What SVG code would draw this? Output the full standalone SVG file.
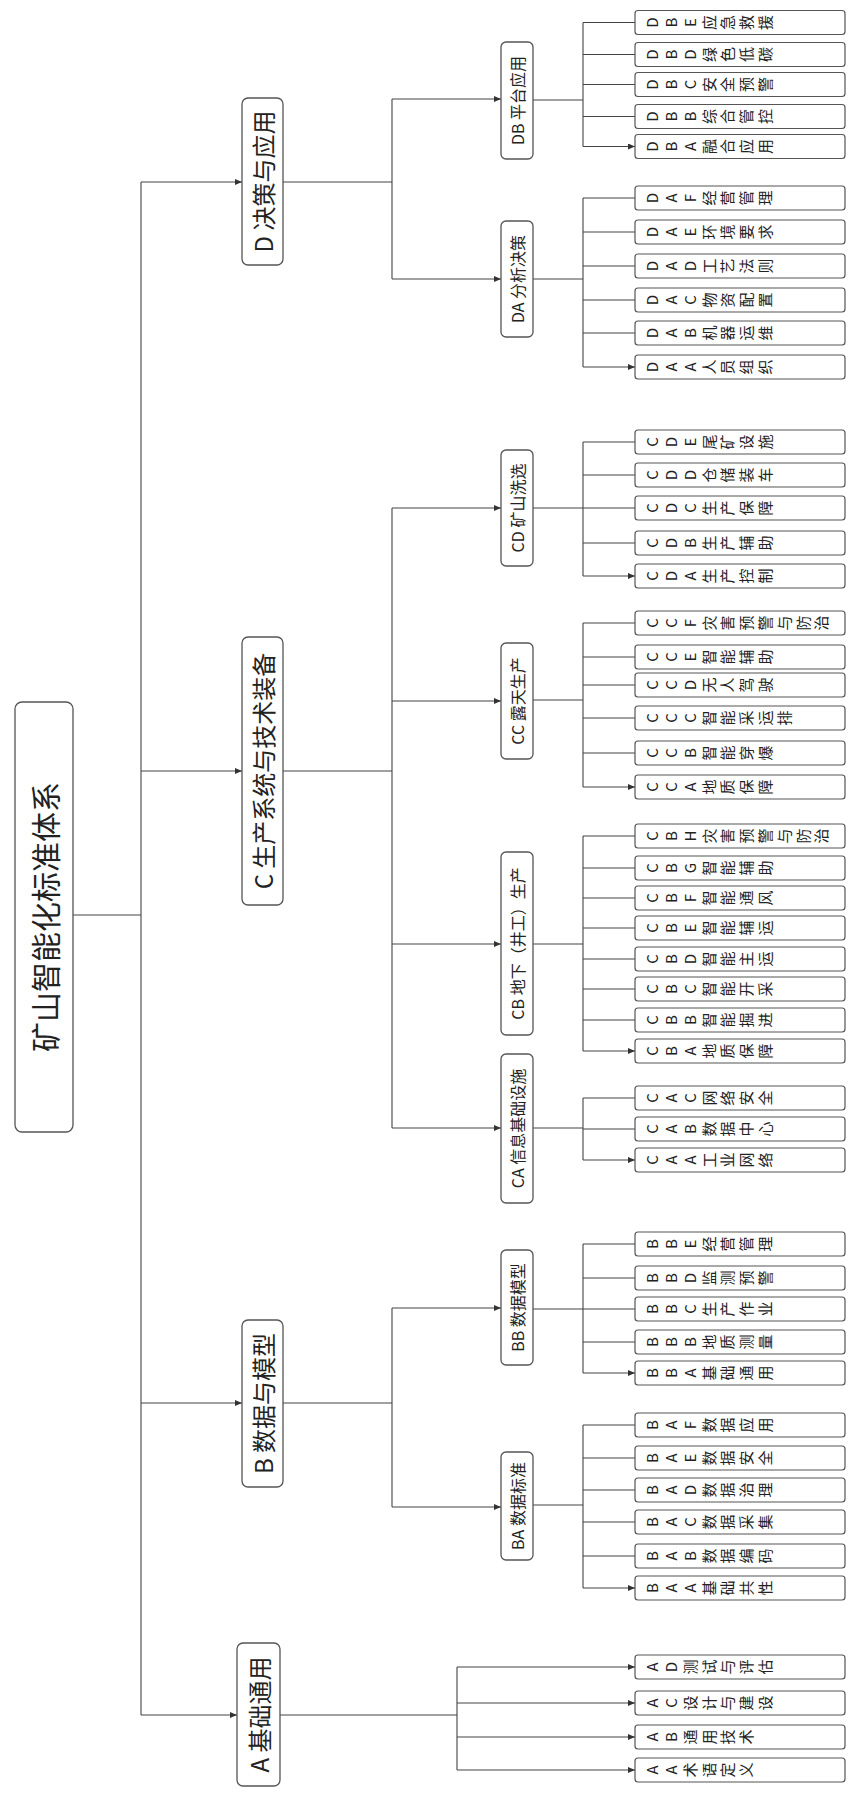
<svg xmlns="http://www.w3.org/2000/svg" width="859" height="1798" viewBox="0 0 859 1798">
<style>
.bg{fill:#fff}
.box{fill:#fff;stroke:#555;stroke-width:1.3}
.leaf{fill:#fff;stroke:#555;stroke-width:1.2}
.ln{fill:none;stroke:#444;stroke-width:1.1}
.ar{fill:none;stroke:#444;stroke-width:1.1;marker-end:url(#ah)}
.t{font-family:"Noto Sans CJK SC","Noto Sans",sans-serif;fill:#222;text-anchor:middle;dominant-baseline:central}
.t0{font-size:30px}
.t1{font-size:24px}
.t2{font-size:16px}
.lt{font-family:"Noto Sans CJK SC","Noto Sans",sans-serif;font-size:15px;fill:#222;writing-mode:vertical-rl;text-orientation:upright;letter-spacing:3.8px}
</style>
<defs>
<marker id="ah" markerUnits="userSpaceOnUse" markerWidth="8" markerHeight="6" refX="7" refY="3" orient="auto">
<path d="M0,0 L7,3 L0,6 Z" fill="#333"/>
</marker>
</defs>
<rect class="bg" x="0" y="0" width="859" height="1798"/>
<g id="connectors">
<path class="ln" d="M73,915 H141 M141,182 V1715"/>
<path class="ar" d="M141,182 H242"/>
<path class="ar" d="M141,771 H242"/>
<path class="ar" d="M141,1403 H242"/>
<path class="ar" d="M141,1715 H237"/>
<path class="ln" d="M283,182 H392 M392,99 V279"/>
<path class="ar" d="M392,99 H501"/>
<path class="ar" d="M392,279 H501"/>
<path class="ln" d="M283,771 H392 M392,508 V1128"/>
<path class="ar" d="M392,508 H501"/>
<path class="ar" d="M392,701 H501"/>
<path class="ar" d="M392,944 H501"/>
<path class="ar" d="M392,1128 H501"/>
<path class="ln" d="M283,1403 H392 M392,1308 V1507"/>
<path class="ar" d="M392,1308 H501"/>
<path class="ar" d="M392,1507 H501"/>
<path class="ln" d="M280,1715 H457 M457,1667 V1770"/>
<path class="ar" d="M457,1667 H635"/>
<path class="ar" d="M457,1703 H635"/>
<path class="ar" d="M457,1737 H635"/>
<path class="ar" d="M457,1770 H635"/>
<path class="ln" d="M533,100 H583 M583,22.5 V146.5"/>
<path class="ar" d="M583,22.5 H635 M583,54.5 H635 M583,84.5 H635 M583,116.5 H635 M583,146.5 H635"/>
<path class="ln" d="M533,279 H583 M583,198 V367"/>
<path class="ar" d="M583,198 H635 M583,232 H635 M583,266 H635 M583,300 H635 M583,333 H635 M583,367 H635"/>
<path class="ln" d="M533,508 H583 M583,442 V576"/>
<path class="ar" d="M583,442 H635 M583,475 H635 M583,508 H635 M583,543 H635 M583,576 H635"/>
<path class="ln" d="M533,700 H583 M583,623 V787"/>
<path class="ar" d="M583,623 H635 M583,657 H635 M583,685 H635 M583,718 H635 M583,753 H635 M583,787 H635"/>
<path class="ln" d="M533,944 H583 M583,836 V1051"/>
<path class="ar" d="M583,836 H635 M583,868 H635 M583,898 H635 M583,928 H635 M583,959 H635 M583,989 H635 M583,1020 H635 M583,1051 H635"/>
<path class="ln" d="M533,1128 H583 M583,1098 V1160"/>
<path class="ar" d="M583,1098 H635 M583,1129 H635 M583,1160 H635"/>
<path class="ln" d="M533,1309 H583 M583,1244 V1373"/>
<path class="ar" d="M583,1244 H635 M583,1278 H635 M583,1309 H635 M583,1342 H635 M583,1373 H635"/>
<path class="ln" d="M533,1505 H583 M583,1425 V1588"/>
<path class="ar" d="M583,1425 H635 M583,1458 H635 M583,1490 H635 M583,1522 H635 M583,1556 H635 M583,1588 H635"/>
</g>
<g id="root"><rect class="box" x="15" y="702" width="58" height="430" rx="7"/><text class="t t0" transform="translate(44,917) rotate(-90)">矿山智能化标准体系</text></g>
<g id="D"><rect class="box" x="242" y="98" width="41" height="167" rx="6"/><text class="t t1" transform="translate(262.5,181.5) rotate(-90)">D 决策与应用</text></g>
<g id="C"><rect class="box" x="242" y="637" width="41" height="268" rx="6"/><text class="t t1" transform="translate(262.5,771) rotate(-90)">C 生产系统与技术装备</text></g>
<g id="B"><rect class="box" x="242" y="1320" width="41" height="167" rx="6"/><text class="t t1" transform="translate(262.5,1403.5) rotate(-90)">B 数据与模型</text></g>
<g id="A"><rect class="box" x="237" y="1643" width="43" height="143" rx="6"/><text class="t t1" transform="translate(258.5,1714.5) rotate(-90)">A 基础通用</text></g>
<g id="DB"><rect class="box" x="501" y="42" width="32" height="117" rx="5"/><text class="t t2" transform="translate(517,100.5) rotate(-90)">DB 平台应用</text></g>
<g id="DA"><rect class="box" x="501" y="221" width="32" height="116" rx="5"/><text class="t t2" transform="translate(517,279) rotate(-90)">DA 分析决策</text></g>
<g id="CD"><rect class="box" x="501" y="450" width="32" height="116" rx="5"/><text class="t t2" transform="translate(517,508) rotate(-90)">CD 矿山洗选</text></g>
<g id="CC"><rect class="box" x="501" y="643" width="32" height="116" rx="5"/><text class="t t2" transform="translate(517,701) rotate(-90)">CC 露天生产</text></g>
<g id="CB"><rect class="box" x="501" y="852" width="32" height="183" rx="5"/><text class="t t2" transform="translate(517,943.5) rotate(-90)">CB 地下（井工）生产</text></g>
<g id="CA"><rect class="box" x="501" y="1054" width="32" height="149" rx="5"/><text class="t t2" transform="translate(517,1128.5) rotate(-90)">CA 信息基础设施</text></g>
<g id="BB"><rect class="box" x="501" y="1250" width="32" height="115" rx="5"/><text class="t t2" transform="translate(517,1307.5) rotate(-90)">BB 数据模型</text></g>
<g id="BA"><rect class="box" x="501" y="1452" width="32" height="108" rx="5"/><text class="t t2" transform="translate(517,1506) rotate(-90)">BA 数据标准</text></g>
<g id="DBE"><rect class="leaf" x="635" y="10.5" width="210" height="24" rx="3"/><text class="lt" transform="translate(645,22.5) rotate(-90)">DBE应急救援</text></g>
<g id="DBD"><rect class="leaf" x="635" y="42.5" width="210" height="24" rx="3"/><text class="lt" transform="translate(645,54.5) rotate(-90)">DBD绿色低碳</text></g>
<g id="DBC"><rect class="leaf" x="635" y="72.5" width="210" height="24" rx="3"/><text class="lt" transform="translate(645,84.5) rotate(-90)">DBC安全预警</text></g>
<g id="DBB"><rect class="leaf" x="635" y="104.5" width="210" height="24" rx="3"/><text class="lt" transform="translate(645,116.5) rotate(-90)">DBB综合管控</text></g>
<g id="DBA"><rect class="leaf" x="635" y="134.5" width="210" height="24" rx="3"/><text class="lt" transform="translate(645,146.5) rotate(-90)">DBA融合应用</text></g>
<g id="DAF"><rect class="leaf" x="635" y="186" width="210" height="24" rx="3"/><text class="lt" transform="translate(645,198) rotate(-90)">DAF经营管理</text></g>
<g id="DAE"><rect class="leaf" x="635" y="220" width="210" height="24" rx="3"/><text class="lt" transform="translate(645,232) rotate(-90)">DAE环境要求</text></g>
<g id="DAD"><rect class="leaf" x="635" y="254" width="210" height="24" rx="3"/><text class="lt" transform="translate(645,266) rotate(-90)">DAD工艺法则</text></g>
<g id="DAC"><rect class="leaf" x="635" y="288" width="210" height="24" rx="3"/><text class="lt" transform="translate(645,300) rotate(-90)">DAC物资配置</text></g>
<g id="DAB"><rect class="leaf" x="635" y="321" width="210" height="24" rx="3"/><text class="lt" transform="translate(645,333) rotate(-90)">DAB机器运维</text></g>
<g id="DAA"><rect class="leaf" x="635" y="355" width="210" height="24" rx="3"/><text class="lt" transform="translate(645,367) rotate(-90)">DAA人员组织</text></g>
<g id="CDE"><rect class="leaf" x="635" y="430" width="210" height="24" rx="3"/><text class="lt" transform="translate(645,442) rotate(-90)">CDE尾矿设施</text></g>
<g id="CDD"><rect class="leaf" x="635" y="463" width="210" height="24" rx="3"/><text class="lt" transform="translate(645,475) rotate(-90)">CDD仓储装车</text></g>
<g id="CDC"><rect class="leaf" x="635" y="496" width="210" height="24" rx="3"/><text class="lt" transform="translate(645,508) rotate(-90)">CDC生产保障</text></g>
<g id="CDB"><rect class="leaf" x="635" y="531" width="210" height="24" rx="3"/><text class="lt" transform="translate(645,543) rotate(-90)">CDB生产辅助</text></g>
<g id="CDA"><rect class="leaf" x="635" y="564" width="210" height="24" rx="3"/><text class="lt" transform="translate(645,576) rotate(-90)">CDA生产控制</text></g>
<g id="CCF"><rect class="leaf" x="635" y="611" width="210" height="24" rx="3"/><text class="lt" transform="translate(645,623) rotate(-90)">CCF灾害预警与防治</text></g>
<g id="CCE"><rect class="leaf" x="635" y="645" width="210" height="24" rx="3"/><text class="lt" transform="translate(645,657) rotate(-90)">CCE智能辅助</text></g>
<g id="CCD"><rect class="leaf" x="635" y="673" width="210" height="24" rx="3"/><text class="lt" transform="translate(645,685) rotate(-90)">CCD无人驾驶</text></g>
<g id="CCC"><rect class="leaf" x="635" y="706" width="210" height="24" rx="3"/><text class="lt" transform="translate(645,718) rotate(-90)">CCC智能采运排</text></g>
<g id="CCB"><rect class="leaf" x="635" y="741" width="210" height="24" rx="3"/><text class="lt" transform="translate(645,753) rotate(-90)">CCB智能穿爆</text></g>
<g id="CCA"><rect class="leaf" x="635" y="775" width="210" height="24" rx="3"/><text class="lt" transform="translate(645,787) rotate(-90)">CCA地质保障</text></g>
<g id="CBH"><rect class="leaf" x="635" y="824" width="210" height="24" rx="3"/><text class="lt" transform="translate(645,836) rotate(-90)">CBH灾害预警与防治</text></g>
<g id="CBG"><rect class="leaf" x="635" y="856" width="210" height="24" rx="3"/><text class="lt" transform="translate(645,868) rotate(-90)">CBG智能辅助</text></g>
<g id="CBF"><rect class="leaf" x="635" y="886" width="210" height="24" rx="3"/><text class="lt" transform="translate(645,898) rotate(-90)">CBF智能通风</text></g>
<g id="CBE"><rect class="leaf" x="635" y="916" width="210" height="24" rx="3"/><text class="lt" transform="translate(645,928) rotate(-90)">CBE智能辅运</text></g>
<g id="CBD"><rect class="leaf" x="635" y="947" width="210" height="24" rx="3"/><text class="lt" transform="translate(645,959) rotate(-90)">CBD智能主运</text></g>
<g id="CBC"><rect class="leaf" x="635" y="977" width="210" height="24" rx="3"/><text class="lt" transform="translate(645,989) rotate(-90)">CBC智能开采</text></g>
<g id="CBB"><rect class="leaf" x="635" y="1008" width="210" height="24" rx="3"/><text class="lt" transform="translate(645,1020) rotate(-90)">CBB智能掘进</text></g>
<g id="CBA"><rect class="leaf" x="635" y="1039" width="210" height="24" rx="3"/><text class="lt" transform="translate(645,1051) rotate(-90)">CBA地质保障</text></g>
<g id="CAC"><rect class="leaf" x="635" y="1086" width="210" height="24" rx="3"/><text class="lt" transform="translate(645,1098) rotate(-90)">CAC网络安全</text></g>
<g id="CAB"><rect class="leaf" x="635" y="1117" width="210" height="24" rx="3"/><text class="lt" transform="translate(645,1129) rotate(-90)">CAB数据中心</text></g>
<g id="CAA"><rect class="leaf" x="635" y="1148" width="210" height="24" rx="3"/><text class="lt" transform="translate(645,1160) rotate(-90)">CAA工业网络</text></g>
<g id="BBE"><rect class="leaf" x="635" y="1232" width="210" height="24" rx="3"/><text class="lt" transform="translate(645,1244) rotate(-90)">BBE经营管理</text></g>
<g id="BBD"><rect class="leaf" x="635" y="1266" width="210" height="24" rx="3"/><text class="lt" transform="translate(645,1278) rotate(-90)">BBD监测预警</text></g>
<g id="BBC"><rect class="leaf" x="635" y="1297" width="210" height="24" rx="3"/><text class="lt" transform="translate(645,1309) rotate(-90)">BBC生产作业</text></g>
<g id="BBB"><rect class="leaf" x="635" y="1330" width="210" height="24" rx="3"/><text class="lt" transform="translate(645,1342) rotate(-90)">BBB地质测量</text></g>
<g id="BBA"><rect class="leaf" x="635" y="1361" width="210" height="24" rx="3"/><text class="lt" transform="translate(645,1373) rotate(-90)">BBA基础通用</text></g>
<g id="BAF"><rect class="leaf" x="635" y="1413" width="210" height="24" rx="3"/><text class="lt" transform="translate(645,1425) rotate(-90)">BAF数据应用</text></g>
<g id="BAE"><rect class="leaf" x="635" y="1446" width="210" height="24" rx="3"/><text class="lt" transform="translate(645,1458) rotate(-90)">BAE数据安全</text></g>
<g id="BAD"><rect class="leaf" x="635" y="1478" width="210" height="24" rx="3"/><text class="lt" transform="translate(645,1490) rotate(-90)">BAD数据治理</text></g>
<g id="BAC"><rect class="leaf" x="635" y="1510" width="210" height="24" rx="3"/><text class="lt" transform="translate(645,1522) rotate(-90)">BAC数据采集</text></g>
<g id="BAB"><rect class="leaf" x="635" y="1544" width="210" height="24" rx="3"/><text class="lt" transform="translate(645,1556) rotate(-90)">BAB数据编码</text></g>
<g id="BAA"><rect class="leaf" x="635" y="1576" width="210" height="24" rx="3"/><text class="lt" transform="translate(645,1588) rotate(-90)">BAA基础共性</text></g>
<g id="AD"><rect class="leaf" x="635" y="1655" width="210" height="24" rx="3"/><text class="lt" transform="translate(645,1667) rotate(-90)">AD测试与评估</text></g>
<g id="AC"><rect class="leaf" x="635" y="1691" width="210" height="24" rx="3"/><text class="lt" transform="translate(645,1703) rotate(-90)">AC设计与建设</text></g>
<g id="AB"><rect class="leaf" x="635" y="1725" width="210" height="24" rx="3"/><text class="lt" transform="translate(645,1737) rotate(-90)">AB通用技术</text></g>
<g id="AA"><rect class="leaf" x="635" y="1758" width="210" height="24" rx="3"/><text class="lt" transform="translate(645,1770) rotate(-90)">AA术语定义</text></g>
</svg>
